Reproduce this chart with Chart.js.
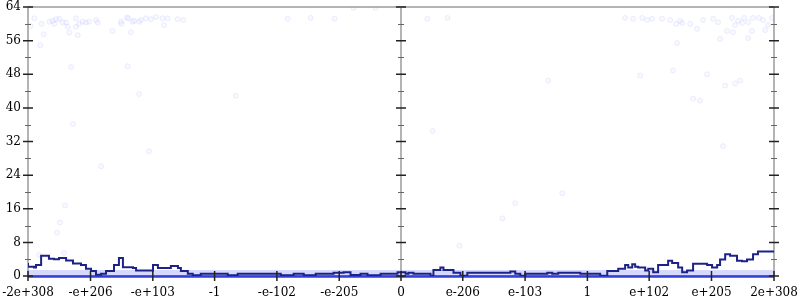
<!DOCTYPE html>
<html>
<head>
<meta charset="utf-8">
<script src="https://cdn.jsdelivr.net/npm/chart.js@4.4.1/dist/chart.umd.min.js"></script>
<style>
  html, body { margin: 0; padding: 0; background: #fff; }
  #wrap { width: 800px; height: 300px; }
</style>
</head>
<body>
<div id="wrap"><canvas id="grafico" width="800" height="300"></canvas></div>
<script>
/* x axis is in "exponent" units of the float bit pattern (-2047 .. 2047) */
const xTickVals = [-2047, -1704, -1362, -1023, -681, -339, 0, 339, 681, 1023, 1362, 1704, 2047];
const xTickLabels = ['-2e+308', '-e+206', '-e+103', '-1', '-e-102', '-e-205', '0',
  'e-206', 'e-103', '1', 'e+102', 'e+205', '2e+308'];
const yTicks = [0, 8, 16, 24, 32, 40, 48, 56, 64];
const yMinor = [4, 12, 20, 28, 36, 44, 52, 60];

/* running average (dark step line) */
const lineX = [-2047, -2014, -2003, -1975, -1932, -1904, -1877, -1838, -1800, -1756, -1729, -1701,
  -1674, -1646, -1619, -1575, -1548, -1526, -1471, -1454, -1361, -1334, -1263, -1224, -1208, -1170,
  -1143, -1099, -951, -896, -660, -589, -534, -468, -370, -315, -277, -222, -184, -112, -19,
  25, 41, 68, 162, 178, 216, 233, 288, 326, 364, 600, 627, 655, 682, 803, 830, 863, 984, 1022,
  1093, 1132, 1192, 1230, 1247, 1269, 1285, 1302, 1340, 1357, 1384, 1411, 1466, 1488, 1521, 1543,
  1570, 1603, 1680, 1707, 1735, 1751, 1779, 1806, 1844, 1872, 1899, 1932, 1959, 1987, 2047];
const lineY = [3.1, 2.2, 2.0, 2.6, 4.8, 4.1, 4.0, 4.3, 3.7, 3.0, 2.6, 1.75,
  1.2, 0.3, 0.55, 1.2, 2.6, 4.3, 2.1, 1.9, 1.3, 2.6, 1.9, 2.4, 1.9, 1.2,
  0.55, 0.2, 0.55, 0.2, 0.55, 0.2, 0.55, 0.2, 0.55, 0.8, 0.9, 0.25, 0.55, 0.2, 0.55,
  0.9, 0.55, 0.8, 0.55, 0.05, 1.4, 2.0, 1.4, 0.8, 0.05, 0.8, 1.1, 0.55, 0.05, 0.55, 0.8, 0.55, 0.8, 0.55,
  0.55, 0.05, 1.2, 1.75, 2.6, 2.0, 2.8, 2.2, 2.0, 1.3, 1.75, 0.9, 2.6, 3.6, 3.1, 2.0,
  0.9, 1.3, 2.9, 2.6, 2.0, 2.6, 3.9, 5.2, 4.8, 3.6, 3.5, 3.9, 5.2, 5.8, 5.8];

/* dense band of samples near zero */
const bandX = [-2047, 2047];
const bandTop = [1.45, 1.45];
const zeroY = [-0.1, -0.1];

/* sparse samples */
const ptX = [-2012, -2034, -1972, -1961, -1979, -1930, -1911, -1903, -1893, -1875, -1857, -1838,
  -1829, -1820, -1811, -1784, -1784, -1774, -1766, -1747, -1729, -1711, -1674, -1665, -1583,
  -1537, -1533, -1504, -1497, -1482, -1473, -1464, -1437, -1427, -1400, -1373, -1345, -1309,
  -1300, -1281, -1226, -1194, -1500, -1437, -622, -496, -364, -260, -140, 145, 255,
  1230, 1274, 1324, 1351, 1378, 1433, 1477, 1510, 1532, 1543, 1587, 1625, 1515, 1658, 1713,
  1740, 1751, 1789, 1817, 1822, 1833, 1850, 1872, 1883, 1905, 1926, 1932, 1965, 1987, 1998,
  2014, 2036, 1905, 1313, 1493, 1680, 1779, 1833, 1861, 1603,
  -1986, -1888, -1871, -1844, -1849, 627, 556, 321, -1800, -1646, -1383, -907, 173, 808, 885, 1641, 1767];
const ptY = [61.3, 59.5, 60.0, 57.5, 54.9, 60.5, 60.7, 60.0, 61.1, 61.2, 60.3, 60.3,
  59.3, 57.9, 49.7, 61.3, 59.3, 57.3, 60.0, 60.5, 60.3, 60.5, 60.9, 60.3, 58.3,
  60.5, 60.0, 61.5, 61.3, 58.0, 60.5, 60.7, 60.5, 60.9, 61.3, 61.1, 61.6, 61.3,
  59.7, 61.3, 61.1, 60.9, 49.9, 43.3, 61.2, 61.4, 61.2, 63.8, 63.8, 61.2, 61.4,
  61.4, 61.2, 61.4, 60.9, 61.2, 61.2, 60.9, 60.0, 60.7, 60.2, 60.0, 58.8, 55.4, 60.9, 61.2,
  60.4, 56.4, 58.3, 61.4, 58.0, 59.7, 60.7, 60.2, 61.4, 60.4, 58.3, 61.4, 61.4, 60.9, 58.5,
  59.7, 61.4, 56.6, 47.7, 48.9, 48.0, 45.3, 45.8, 46.5, 42.2,
  5.0, 10.3, 12.7, 16.8, 5.5, 17.3, 13.7, 7.2, 36.2, 26.1, 29.7, 42.9, 34.5, 46.5, 19.7, 41.7, 30.9];

const cores = {
  eixo: '#b4b4b4', tick: '#222', tickMenor: '#666',
  linha: '#1c2288', zero: '#3340d8', faixa: 'rgba(120,130,245,0.30)',
  ponto: 'rgba(140,150,255,0.06)', pontoBorda: 'rgba(120,130,240,0.13)'
};

const toPts = (xs, ys) => xs.map((x, i) => ({ x: x, y: ys[i] }));

/* axis lines, ticks on the left, middle and right verticals */
const eixos = {
  id: 'eixos',
  beforeDatasetsDraw(chart) {
    const { ctx, chartArea: a, scales } = chart;
    const xm = scales.x.getPixelForValue(0);
    ctx.save();
    ctx.strokeStyle = cores.eixo;
    ctx.lineWidth = 2;
    ctx.beginPath();
    ctx.moveTo(a.left, a.top); ctx.lineTo(a.right, a.top);
    ctx.moveTo(a.left, a.bottom); ctx.lineTo(a.right, a.bottom);
    [a.left, xm, a.right].forEach(x => { ctx.moveTo(x, a.top); ctx.lineTo(x, a.bottom); });
    ctx.stroke();
    ctx.restore();
  },
  afterDatasetsDraw(chart) {
    const { ctx, chartArea: a, scales } = chart;
    const xm = scales.x.getPixelForValue(0);
    ctx.save();
    [a.left, xm, a.right].forEach(x => {
      ctx.strokeStyle = cores.tickMenor;
      ctx.lineWidth = 1;
      ctx.beginPath();
      yMinor.forEach(v => {
        const y = Math.round(scales.y.getPixelForValue(v)) + 0.5;
        ctx.moveTo(x - 3, y); ctx.lineTo(x + 3, y);
      });
      ctx.stroke();
      ctx.strokeStyle = cores.tick;
      ctx.lineWidth = 1.5;
      ctx.beginPath();
      yTicks.forEach(v => {
        const y = scales.y.getPixelForValue(v);
        ctx.moveTo(x - 5, y); ctx.lineTo(x + 5, y);
      });
      ctx.stroke();
    });
    ctx.strokeStyle = cores.tick;
    ctx.lineWidth = 1.5;
    ctx.beginPath();
    xTickVals.forEach(v => {
      const x = scales.x.getPixelForValue(v);
      ctx.moveTo(x, a.bottom - 5); ctx.lineTo(x, a.bottom + 5);
    });
    ctx.stroke();
    ctx.restore();
  }
};

new Chart(document.getElementById('grafico'), {
  type: 'scatter',
  data: {
    datasets: [
      {
        type: 'line', data: toPts(lineX, lineY), stepped: 'after',
        borderColor: cores.linha, borderWidth: 2, pointRadius: 0, fill: false, order: 0
      },
      {
        type: 'line', data: toPts(bandX, zeroY), clip: 4,
        borderColor: cores.zero, borderWidth: 2.5, pointRadius: 0, fill: false, order: 1
      },
      {
        data: toPts(ptX, ptY), pointRadius: 2.5, borderWidth: 1,
        backgroundColor: cores.ponto, borderColor: cores.pontoBorda, order: 2
      },
      {
        type: 'line', data: toPts(bandX, bandTop), fill: 'origin',
        backgroundColor: cores.faixa, borderWidth: 0, pointRadius: 0, order: 3
      }
    ]
  },
  options: {
    responsive: false,
    animation: false,
    events: [],
    layout: { autoPadding: false, padding: { top: 7, right: 26, bottom: 0, left: 0 } },
    plugins: { legend: { display: false }, tooltip: { enabled: false } },
    scales: {
      x: {
        type: 'linear', min: -2047, max: 2047,
        afterBuildTicks: s => { s.ticks = xTickVals.map(v => ({ value: v })); },
        afterFit: s => { s.height = 24; s.paddingLeft = 0; s.paddingRight = 0; },
        grid: { display: false, drawTicks: false },
        border: { display: false },
        ticks: {
          padding: 10, color: '#000', maxRotation: 0, autoSkip: false,
          font: { family: 'DejaVu Serif', size: 12 },
          callback: (v, i) => xTickLabels[i]
        }
      },
      y: {
        min: 0, max: 64,
        afterBuildTicks: s => { s.ticks = yTicks.map(v => ({ value: v })); },
        afterFit: s => { s.width = 28; s.paddingTop = 0; s.paddingBottom = 0; },
        grid: { display: false, drawTicks: false },
        border: { display: false },
        ticks: {
          padding: 7, color: '#000',
          font: { family: 'DejaVu Serif', size: 12 }
        }
      }
    }
  },
  plugins: [eixos]
});
</script>
</body>
</html>
